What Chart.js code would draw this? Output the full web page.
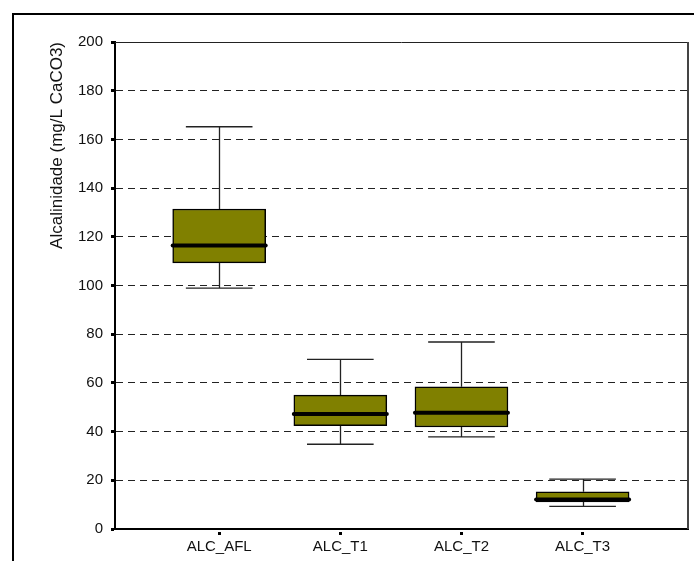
<!DOCTYPE html>
<html>
<head>
<meta charset="utf-8">
<script src="https://cdn.jsdelivr.net/npm/chart.js@4"></script>
<style>
  html, body { margin: 0; padding: 0; background: #fff; overflow: hidden; }
  #frame { position: absolute; left: 12px; top: 13px; width: 900px; height: 900px; border: 2px solid #000; }
  #boxChart { position: absolute; left: 0; top: 0; }
</style>
</head>
<body>
<div id="frame"></div>
<canvas id="boxChart" width="694" height="561"></canvas>
<script>
// box plot values
var categories = ['ALC_AFL', 'ALC_T1', 'ALC_T2', 'ALC_T3'];
var minValues = [98.9, 34.8, 37.8, 9.3];
var q1Values = [109.3, 42.4, 41.9, 11.1];
var medianValues = [116.4, 47.2, 47.7, 12.1];
var q3Values = [131.4, 55.0, 58.4, 15.3];
var maxValues = [165.2, 69.7, 76.8, 20.5];
var yTicks = [0, 20, 40, 60, 80, 100, 120, 140, 160, 180, 200];

var positions = categories.map(function (c, i) { return i; });

// whiskers, caps, medians and the thin top/right frame of the plot
var boxExtras = {
    id: 'boxExtras',
    afterDatasetsDraw: function (chart) {
        var ctx = chart.ctx;
        var xs = chart.scales.x, ys = chart.scales.y;
        ctx.save();
        positions.forEach(function (p, i) {
            var x = Math.round(xs.getPixelForValue(p)) + 0.5;
            var capL = xs.getPixelForValue(p - 0.275);
            var capR = xs.getPixelForValue(p + 0.275);
            var yMin = ys.getPixelForValue(minValues[i]);
            var yQ1 = ys.getPixelForValue(q1Values[i]);
            var yQ3 = ys.getPixelForValue(q3Values[i]);
            var yMax = ys.getPixelForValue(maxValues[i]);
            ctx.strokeStyle = '#222';
            ctx.lineWidth = 1.3;
            ctx.setLineDash([]);
            ctx.beginPath();
            ctx.moveTo(x, yQ3); ctx.lineTo(x, yMax);
            ctx.moveTo(capL, yMax); ctx.lineTo(capR, yMax);
            ctx.moveTo(x, yQ1); ctx.lineTo(x, yMin);
            ctx.moveTo(capL, yMin); ctx.lineTo(capR, yMin);
            ctx.stroke();
            // median
            var half = 93 / 2;
            var yMed = ys.getPixelForValue(medianValues[i]);
            ctx.strokeStyle = '#000';
            ctx.lineWidth = 4;
            ctx.lineCap = 'round';
            ctx.beginPath();
            ctx.moveTo(xs.getPixelForValue(p) - half, yMed);
            ctx.lineTo(xs.getPixelForValue(p) + half, yMed);
            ctx.stroke();
            ctx.lineCap = 'butt';
        });
        var a = chart.chartArea;
        ctx.strokeStyle = '#222';
        ctx.lineWidth = 1;
        ctx.beginPath();
        ctx.moveTo(a.left, a.top + 0.5); ctx.lineTo(a.right, a.top + 0.5);
        ctx.stroke();
        ctx.strokeStyle = '#444';
        ctx.lineWidth = 2;
        ctx.beginPath();
        ctx.moveTo(a.right, a.top); ctx.lineTo(a.right, a.bottom);
        ctx.stroke();
        ctx.restore();
    }
};

var ctx = document.getElementById('boxChart').getContext('2d');
new Chart(ctx, {
    type: 'bar',
    data: {
        datasets: [{
            label: 'Alcalinidade',
            data: positions.map(function (p, i) { return { x: p, y: [q1Values[i], q3Values[i]] }; }),
            backgroundColor: '#808000',
            borderColor: '#000',
            borderWidth: 1.5,
            borderSkipped: false,
            barThickness: 93
        }]
    },
    options: {
        responsive: false,
        animation: false,
        layout: { padding: { left: 43, top: 42, right: 6, bottom: 0 } },
        plugins: { legend: { display: false }, tooltip: { enabled: false } },
        scales: {
            x: {
                type: 'linear',
                min: -0.86,
                max: 3.87,
                offset: false,
                afterBuildTicks: function (scale) {
                    scale.ticks = positions.map(function (p) { return { value: p }; });
                },
                afterFit: function (scale) { scale.height = 32; },
                ticks: {
                    callback: function (v) { return categories[v]; },
                    font: { family: 'Liberation Sans', size: 15 },
                    color: '#111',
                    padding: 3,
                    maxRotation: 0,
                    autoSkip: false
                },
                grid: {
                    offset: false,
                    drawOnChartArea: false,
                    tickLength: 6,
                    tickWidth: 3,
                    tickColor: '#000',
                    tickBorderDash: [0, 2, 3, 10]
                },
                border: { color: '#000', width: 2 }
            },
            y: {
                min: 0,
                max: 200,
                afterBuildTicks: function (scale) {
                    scale.ticks = yTicks.map(function (v) { return { value: v }; });
                },
                afterFit: function (scale) { scale.width = 72; },
                ticks: {
                    font: { family: 'Liberation Sans', size: 15 },
                    color: '#111',
                    padding: 8
                },
                grid: {
                    color: function (c) {
                        var v = c.tick ? c.tick.value : null;
                        return (v === 0 || v === 200) ? 'rgba(0,0,0,0)' : '#222';
                    },
                    lineWidth: 1,
                    tickLength: 4,
                    tickWidth: 3,
                    tickColor: '#000',
                    tickBorderDash: []
                },
                border: { color: '#000', width: 2, dash: [7, 5] },
                title: {
                    display: true,
                    text: 'Alcalinidade (mg/L CaCO3)',
                    align: 'end',
                    color: '#111',
                    font: { family: 'Liberation Sans', size: 17 },
                    padding: { top: 4, bottom: 4 }
                }
            }
        }
    },
    plugins: [boxExtras]
});
</script>
</body>
</html>
